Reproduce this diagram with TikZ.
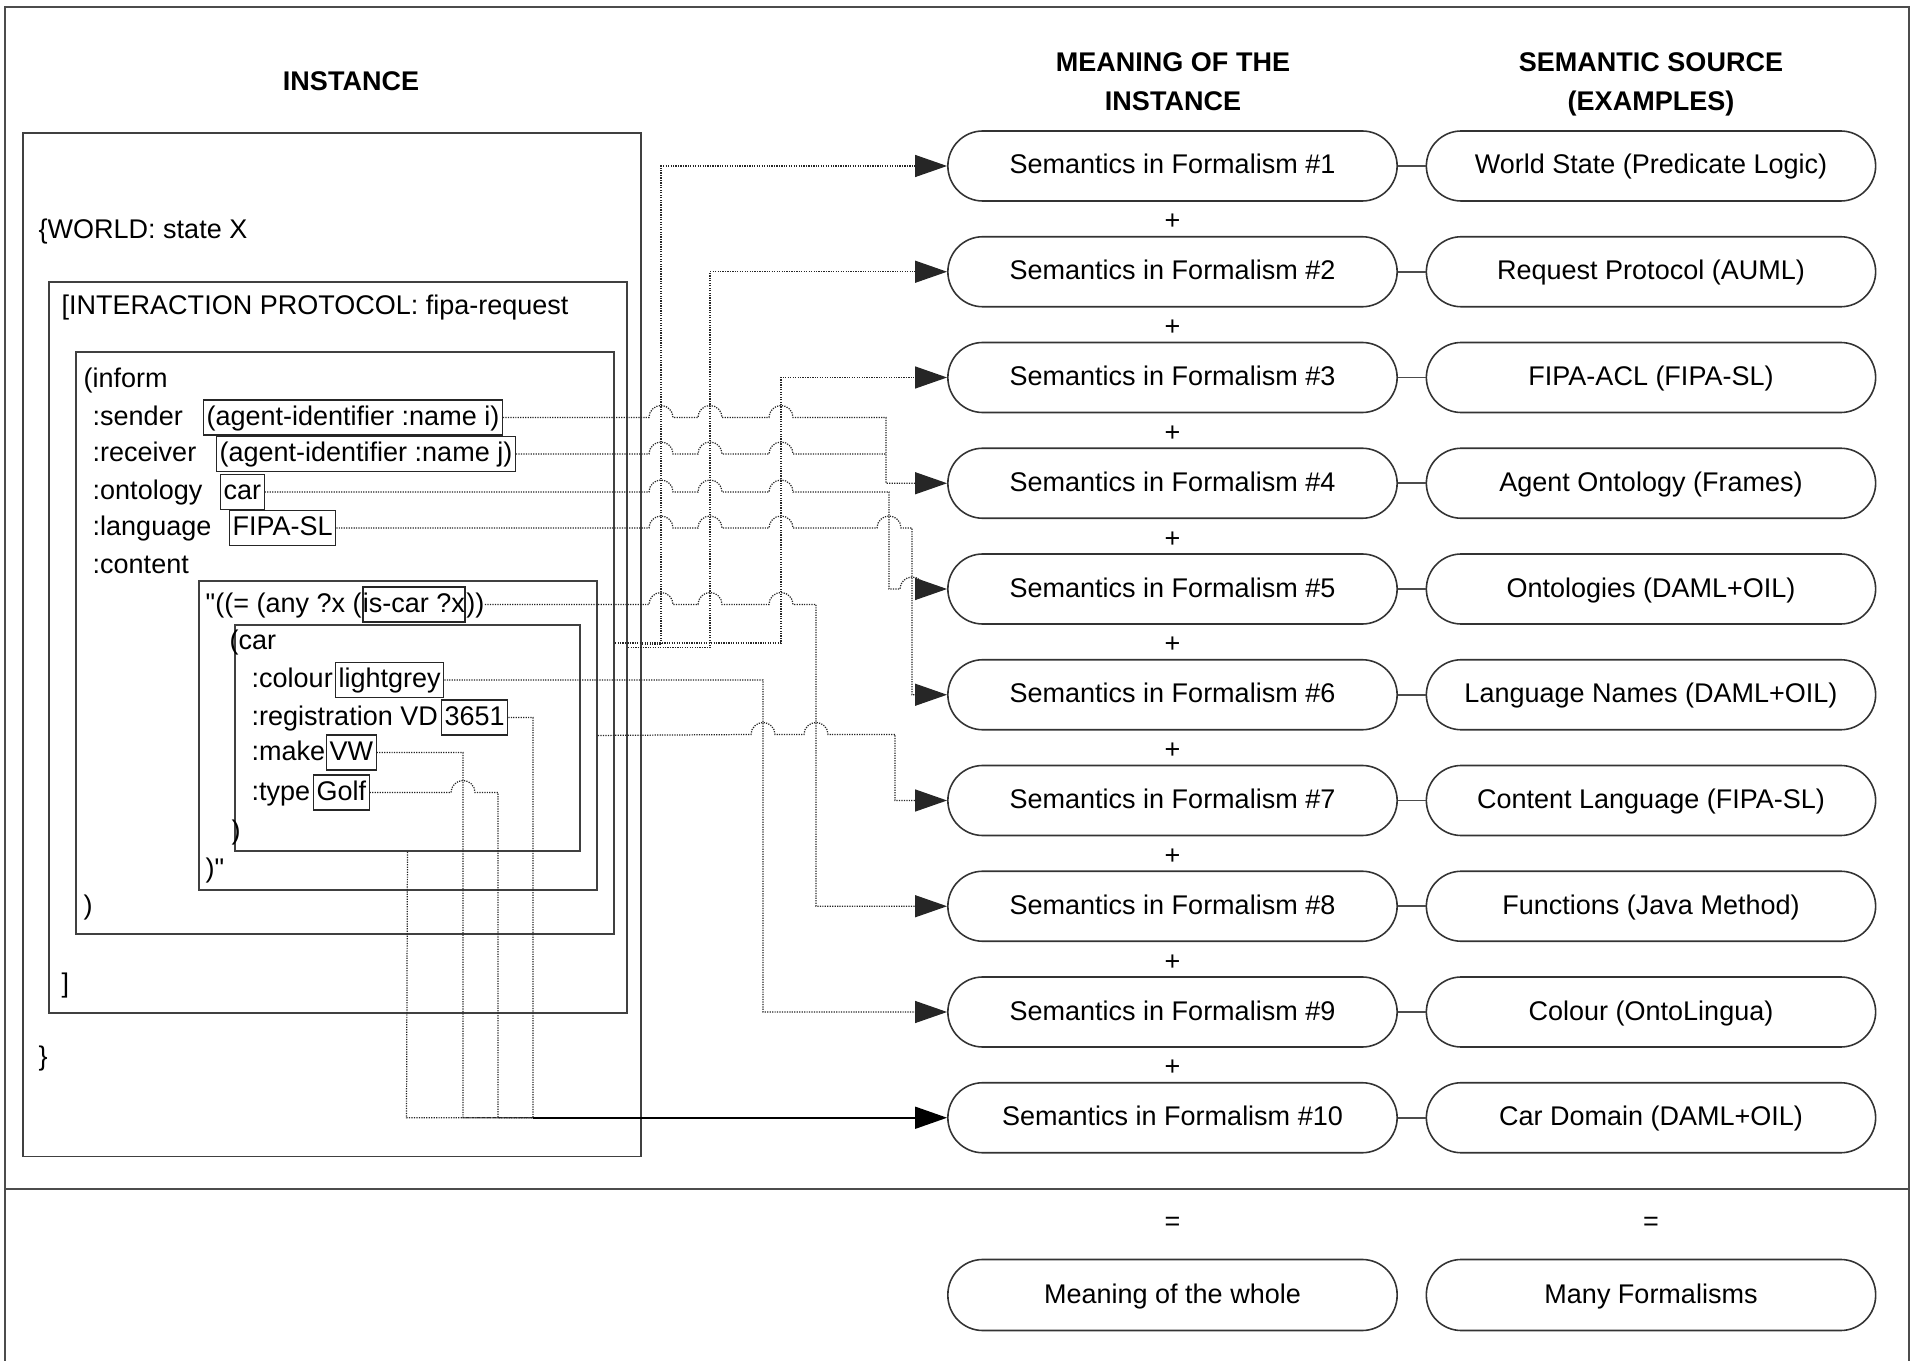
\documentclass[tikz,border=0pt]{standalone}
\usepackage{fontspec}
\setmainfont{Liberation Sans}
\newfontfamily\qf{Liberation Sans}
\usetikzlibrary{arrows.meta}
\newcommand\fs{\fontsize{7.68pt}{9pt}\selectfont}
\newcommand\sq{{\qf"}}
\newcommand\hop[2]{-- (#1-12,#2) arc[start angle=180,end angle=0,radius=0.12cm]}
\begin{document}
\begin{tikzpicture}[x=0.01cm,y=-0.01cm,
  txt/.style={inner sep=0pt,text height=0.215cm,text depth=0.055cm,anchor=base west,font=\fs},
  vbox/.style={txt,draw=black!85,line width=0.35pt,inner xsep=0.03cm,inner ysep=0.04cm},
  cbox/.style={draw=black!75,line width=0.5pt,anchor=north west,inner sep=0pt},
  stad/.style={draw=black!80,line width=0.45pt,rounded corners=0.35cm,minimum width=4.49cm,minimum height=0.70cm,inner sep=0pt,font=\fs,text height=0.215cm,text depth=0.055cm},
  hd/.style={font=\fs\bfseries,inner sep=0pt,anchor=base},
  sym/.style={font=\fs,inner sep=0pt},
  conn/.style={black!85,line width=0.35pt,dash pattern=on 0.35pt off 0.35pt},
  tip/.style={-{Triangle[length=0.32cm,width=0.22cm]}},
]
\useasboundingbox (0,0) rectangle (1917,1361);
% frame
\draw[black!70,line width=0.6pt] (5,1361) -- (5,7) -- (1909,7) -- (1909,1361);
\draw[black!70,line width=0.6pt] (5,1189) -- (1909,1189);

% headers
\node[hd] (h1) at (351,91) {INSTANCE};
\node[hd] (h2a) at (1173,72) {MEANING OF THE};
\node[hd] (h2b) at (1173,111) {INSTANCE};
\node[hd] (h3a) at (1651,72) {SEMANTIC SOURCE};
\node[hd] (h3b) at (1651,111) {(EXAMPLES)};

% container boxes
\node[cbox,minimum width=6.18cm,minimum height=10.23cm] (boxA) at (22,132) {};
\node[cbox,minimum width=5.78cm,minimum height=7.31cm] (boxB) at (48,281) {};
\node[cbox,minimum width=5.38cm,minimum height=5.82cm] (boxC) at (75,351) {};
\node[cbox,minimum width=3.98cm,minimum height=3.09cm] (boxD) at (198,580) {};
\node[cbox,minimum width=3.45cm,minimum height=2.26cm] (boxE) at (234,624) {};

% instance text
\node[txt] (world) at (38,239) {\{WORLD: state X};
\node[txt] (ip) at (61,315) {[INTERACTION PROTOCOL: fipa-request};
\node[txt] (inf) at (83,388) {(inform};
\node[txt] (lsnd) at (92,425.5) {:sender};
\node[vbox] (snd) at (203,425.5) {(agent-identifier :name i)};
\node[txt] (lrcv) at (92,462) {:receiver};
\node[vbox] (rcv) at (216,462) {(agent-identifier :name j)};
\node[txt] (lont) at (92,500) {:ontology};
\node[vbox] (ont) at (220,500) {car};
\node[txt] (llng) at (92,536) {:language};
\node[vbox] (lng) at (229,536) {FIPA-SL};
\node[txt] (lcnt) at (92,574) {:content};
\node[txt] (q1) at (205,612.5) {\sq((= (any ?x (};
\node[vbox,inner xsep=0pt] (isc) at (q1.base east) {is-car ?x};
\node[txt] (q2) at (isc.base east) {))};
\node[txt] (car) at (229,650) {(car};
\node[txt] (lcol) at (251,688) {:colour};
\node[vbox] (col) at (335,688) {lightgrey};
\node[txt] (lreg) at (251,725.5) {:registration VD};
\node[vbox] (reg) at (441,725.5) {3651};
\node[txt] (lmk) at (251,760.5) {:make};
\node[vbox] (mk) at (326,760.5) {VW};
\node[txt] (lty) at (251,800.5) {:type};
\node[vbox] (ty) at (313,800.5) {Golf};
\node[txt] (cl1) at (231,840) {)};
\node[txt] (cl2) at (205,877) {)\sq};
\node[txt] (cl3) at (83,915) {)};
\node[txt] (cl4) at (61,992) {]};
\node[txt] (cl5) at (38,1065) {\}};

% meaning / source columns
\foreach \i/\u in {1/World State (Predicate Logic),2/Request Protocol (AUML),3/FIPA-ACL (FIPA-SL),4/Agent Ontology (Frames),5/Ontologies (DAML+OIL),6/Language Names (DAML+OIL),7/Content Language (FIPA-SL),8/Functions (Java Method),9/Colour (OntoLingua),10/Car Domain (DAML+OIL)}{
  \node[stad] (s\i) at (1172.5,{166+(\i-1)*105.75}) {Semantics in Formalism \#\i};
  \node[stad] (r\i) at (1651,{166+(\i-1)*105.75}) {\u};
  \draw[black!70,line width=0.5pt] (s\i.east) -- (r\i.west);
}
\foreach \i in {1,...,9}{
  \node[sym] (p\i) at (1172.5,{166+(\i-1)*105.75+56}) {+};
}
\node[sym] (eq1) at (1172.5,1224) {=};
\node[sym] (eq2) at (1651,1224) {=};
\node[stad,minimum height=0.71cm] (mw) at (1172.5,1295) {Meaning of the whole};
\node[stad,minimum height=0.71cm] (mf) at (1651,1295) {Many Formalisms};

% connectors
\coordinate (j4) at (886,454);
\coordinate (j10) at (533,1117.75);
\draw[conn,tip] (boxA.east) -| (661,166) -- (s1.west);
\draw[conn,tip] (boxB.east) -| (710,271.75) -- (s2.west);
\draw[conn,tip] (boxC.east) -| (781,377.5) -- (s3.west);
\draw[conn,tip] (snd.east) \hop{661}{417.5} \hop{710}{417.5} \hop{781}{417.5} -- (886,417.5) -- (886,483.25) -- (s4.west);
\draw[conn] (rcv.east) \hop{661}{454} \hop{710}{454} \hop{781}{454} -- (j4);
\draw[conn,tip] (ont.east) \hop{661}{492} \hop{710}{492} \hop{781}{492} -- (889,492) -- (889,589) \hop{912}{589} -- (s5.west);
\draw[conn,tip] (lng.east) \hop{661}{528} \hop{710}{528} \hop{781}{528} \hop{889}{528} -- (912,528) -- (912,694.75) -- (s6.west);
\draw[conn,tip] (q2.east) \hop{661}{604.5} \hop{710}{604.5} \hop{781}{604.5} -- (816,604.5) -- (816,906.25) -- (s8.west);
\draw[conn,tip] (col.east) -- (763,680) -- (763,1012) -- (s9.west);
\draw[conn,tip] (boxD.east) \hop{763}{734.5} \hop{816}{734.5} -- (895,734.5) -- (895,800.5) -- (s7.west);
\draw[conn] (boxE.south) -- (406.5,1117.75) -- (j10);
\draw[conn] (mk.east) -- (463,752.5) -- (463,1117.75) -- (j10);
\draw[conn] (ty.east) \hop{463}{792.5} -- (498,792.5) -- (498,1117.75) -- (j10);
\draw[conn] (reg.east) -- (533,717.5) -- (j10);
\draw[black,line width=0.45pt,tip] (j10) -- (s10.west);
\end{tikzpicture}
\end{document}
